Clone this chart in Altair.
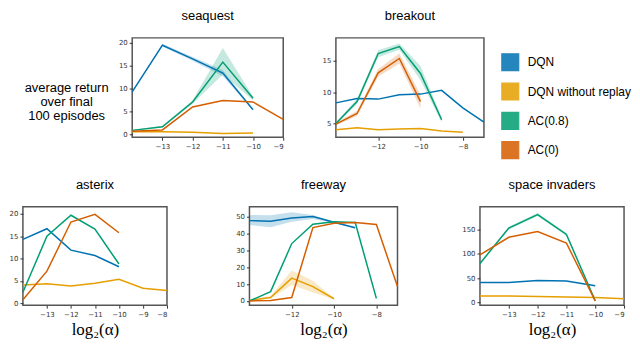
import altair as alt
import pandas as pd

series_names = ["DQN", "DQN without replay", "AC(0.8)", "AC(0)"]
series_colors = ["#0072B2", "#E69F00", "#009E73", "#D55E00"]
log2_alpha = [-14, -13, -12, -11, -10, -9, -8, -7]
ylabel_lines = ["average return", "over final", "100 episodes"]
xlabel = "log\u2082(\u03b1)"

# mean curves (each starts at log2(alpha) = -14)
seaquest = {
    "DQN": [9.2, 19.4, 16.4, 13.3, 5.3],
    "DQN without replay": [0.5, 0.5, 0.4, 0.1, 0.2],
    "AC(0.8)": [0.8, 1.6, 7.0, 15.7, 7.8],
    "AC(0)": [0.6, 0.9, 5.9, 7.3, 7.0, 3.2],
}
breakout = {
    "DQN": [8.3, 9.0, 8.9, 9.6, 9.7, 10.3, 7.5, 5.2],
    "DQN without replay": [4.0, 4.3, 4.0, 4.1, 4.2, 3.8, 3.6],
    "AC(0.8)": [5.0, 8.5, 16.2, 17.3, 13.0, 5.6],
    "AC(0)": [4.9, 6.6, 13.1, 15.4, 8.5],
}
asterix = {
    "DQN": [14.3, 16.7, 11.9, 10.7, 8.2],
    "DQN without replay": [4.1, 4.4, 3.9, 4.5, 5.4, 3.4, 2.9],
    "AC(0.8)": [2.5, 15.0, 19.7, 16.6, 8.8],
    "AC(0)": [0.8, 7.2, 18.2, 19.9, 15.8],
}
freeway = {
    "DQN": [47.6, 47.3, 49.2, 50.0, 46.6, 43.4],
    "DQN without replay": [0.3, 2.0, 13.5, 8.5, 1.3],
    "AC(0.8)": [0.0, 5.5, 34.0, 45.5, 47.0, 46.5, 1.5],
    "AC(0)": [0.0, 0.2, 2.0, 43.5, 46.0, 46.5, 45.3, 8.5],
}
space_invaders = {
    "DQN": [41, 41, 45, 44, 34],
    "DQN without replay": [13, 13, 12, 11, 10, 7],
    "AC(0.8)": [80, 153, 181, 140, 3],
    "AC(0)": [98, 134, 146, 122, 3],
}

# shaded spread (low, high)
seaquest_bands = {
    "DQN": ([9.1, 19.1, 16.0, 12.6, 5.2], [9.3, 19.7, 16.8, 14.0, 5.4]),
    "AC(0.8)": ([0.7, 1.4, 6.6, 13.0, 7.4], [0.9, 1.8, 7.4, 18.8, 8.2]),
}
breakout_bands = {
    "AC(0.8)": ([4.8, 8.1, 15.6, 16.8, 11.9, 5.2], [5.2, 8.9, 16.7, 17.8, 14.2, 6.0]),
    "AC(0)": ([4.7, 6.2, 12.5, 14.6, 7.4], [5.1, 7.0, 13.7, 16.2, 9.6]),
}
asterix_bands = {}
freeway_bands = {
    "DQN": ([45.0, 43.7, 47.0, 48.5, 46.0, 43.0], [51.0, 50.8, 52.5, 51.0, 47.0, 43.6]),
    "DQN without replay": ([0.0, 1.5, 9.5, 5.0, 1.0], [0.6, 3.0, 18.0, 12.0, 1.6]),
}
space_invaders_bands = {
    "AC(0.8)": ([78, 150, 178, 137, 2], [82, 156, 184, 143, 4]),
}

FONT = "Liberation Sans"
TICKFONT = "DejaVu Sans"


def line_frame(curves):
    rows = []
    for name in series_names:
        vals = curves.get(name, [])
        for x, v in zip(log2_alpha, vals):
            rows.append({"x": x, "v": v, "series": name})
    return pd.DataFrame(rows)


def band_frame(bands):
    rows = []
    for name in series_names:
        if name not in bands:
            continue
        lo, hi = bands[name]
        for x, a, b in zip(log2_alpha, lo, hi):
            rows.append({"x": x, "lo": a, "hi": b, "series": name})
    return pd.DataFrame(rows)


def panel(title, curves, bands, width, x_domain, x_ticks, y_domain, y_ticks, bottom):
    xaxis = alt.Axis(values=x_ticks, format="d", title=xlabel if bottom else None,
                     titleFont="Liberation Serif", titleFontSize=17,
                     titleFontWeight="normal", titlePadding=5, titleColor="black")
    xs = alt.Scale(domain=x_domain, nice=False, zero=False)
    ys = alt.Scale(domain=y_domain, nice=False, zero=False)
    yaxis = alt.Axis(values=y_ticks, format="d", title=None)
    layers = []
    if bands:
        bdf = band_frame(bands)
        layers.append(
            alt.Chart(bdf).mark_area(opacity=0.22, stroke="#222222", strokeOpacity=0).encode(
                x=alt.X("x:Q", scale=xs, axis=xaxis),
                y=alt.Y("lo:Q", scale=ys, axis=yaxis),
                y2="hi:Q",
                fill=alt.Fill("series:N",
                              scale=alt.Scale(domain=series_names, range=series_colors),
                              legend=alt.Legend(title=None, symbolStrokeColor="#222222",
                                                symbolStrokeWidth=1.2)),
            )
        )
    ldf = line_frame(curves)
    layers.append(
        alt.Chart(ldf).mark_line(strokeWidth=1.5).encode(
            x=alt.X("x:Q", scale=xs, axis=xaxis),
            y=alt.Y("v:Q", scale=ys, axis=yaxis),
            stroke=alt.Stroke("series:N",
                              scale=alt.Scale(domain=series_names, range=series_colors),
                              legend=None),
            order=alt.Order("x:Q"),
        )
    )
    return alt.layer(*layers).properties(
        width=width, height=100 if not bottom else 99,
        title=alt.TitleParams(title, fontSize=13, font=FONT, fontWeight="normal",
                              offset=15, color="black", anchor="middle"),
    )


text_panel = alt.Chart(pd.DataFrame({"label": ["\n".join(ylabel_lines)]})).mark_text(
    lineBreak="\n", fontSize=13, font=FONT, align="center", baseline="middle",
    lineHeight=14.5, color="black"
).encode(text="label:N", x=alt.value(44), y=alt.value(50)).properties(
    width=57, height=100, view=alt.ViewBackground(strokeOpacity=0)
)

p_seaquest = panel("seaquest", seaquest, seaquest_bands, 152, [-14, -9], [-13, -12, -11, -10, -9],
                   [-0.7, 21], [0, 5, 10, 15, 20], False)
p_breakout = panel("breakout", breakout, breakout_bands, 149, [-14, -7], [-12, -10, -8],
                   [2.8, 18.7], [5, 10, 15], False)
p_asterix = panel("asterix", asterix, asterix_bands, 145, [-14, -8], [-13, -12, -11, -10, -9, -8],
                  [-0.4, 21.6], [0, 5, 10, 15, 20], True)
p_freeway = panel("freeway", freeway, freeway_bands, 149, [-14, -7], [-12, -10, -8],
                  [-2.5, 55.8], [0, 10, 20, 30, 40, 50], True)
p_space = panel("space invaders", space_invaders, space_invaders_bands, 145, [-14, -9],
                [-13, -12, -11, -10, -9], [-6, 197], [0, 50, 100, 150], True)

row1 = alt.hconcat(text_panel, p_seaquest, p_breakout, spacing=53, bounds="flush")
row2 = alt.hconcat(p_asterix, p_freeway, p_space, spacing=83, bounds="flush")

chart = alt.vconcat(row1, row2, spacing=28).resolve_scale(
    fill="shared"
).properties(
    padding={"left": 0, "top": 0, "right": 0, "bottom": 0}
).configure_view(
    stroke="#555555", strokeWidth=1.5
).configure_axis(
    domain=False, grid=False, ticks=True, tickSize=3, tickColor="#333333", tickWidth=1,
    labelFont=TICKFONT, labelFontSize=7, labelColor="#333333", labelPadding=2,
).configure_legend(
    orient="none", legendX=481, legendY=15, symbolType="square", symbolSize=289,
    labelFont=FONT, labelFontSize=12, labelColor="black", rowPadding=6.5,
    labelOffset=8, symbolStrokeColor="#222222", symbolStrokeWidth=1.2,
    symbolOpacity=0.85, padding=0,
)

chart.save("out.html", embed_options={"renderer": "svg", "actions": False})
